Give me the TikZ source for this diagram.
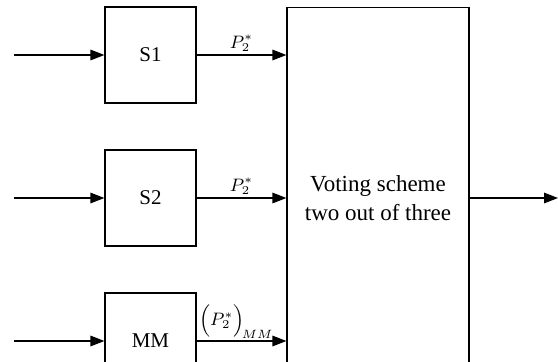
\documentclass[tikz,border=0pt]{standalone}
\usepackage{amsmath}
\usepackage{fontspec}
\setmainfont{Liberation Serif}
\usetikzlibrary{arrows.meta,positioning}

\begin{document}
\begin{tikzpicture}[x=0.5pt,y=-0.5pt,
	sig/.style={-{Triangle[length=7pt,width=5.3pt]},line width=0.6pt},
	blk/.style={draw,line width=0.6pt,minimum width=45.5pt,minimum height=48pt,inner sep=0pt,font=\fontsize{10.5}{12}\selectfont},
	lbl/.style={above,inner sep=1.5pt,font=\fontsize{9}{10}\selectfont}]

	\useasboundingbox (0,0) rectangle (558,361);
	\clip (0,0) rectangle (558,361);

	% sensors and model
	\node[blk] (s1) at (150.5,55) {S1};
	\node[blk] (s2) at (150.5,198) {S2};
	\node[blk] (mm) at (150.5,341) {MM};

	% voter
	\node[draw,line width=0.6pt,minimum width=91pt,minimum height=190.5pt,inner sep=0pt,
		align=center,font=\fontsize{11.5}{14.2}\selectfont] (vote) at (378,198)
		{Voting scheme\\two out of three};

	\coordinate (in1) at (14,55);
	\coordinate (in2) at (14,198);
	\coordinate (in3) at (14,341);
	\coordinate (out) at (558,198);

	\draw[sig] (in1) -- (s1.west);
	\draw[sig] (in2) -- (s2.west);
	\draw[sig] (in3) -- (mm.west);

	\draw[sig] (s1.east) -- node[lbl] {$P_2^*$} (vote.west |- s1.east);
	\draw[sig] (s2.east) -- node[lbl] {$P_2^*$} (vote.west |- s2.east);
	\draw[sig] (mm.east) -- node[lbl,pos=0,anchor=south west,inner sep=1pt] {$\Bigl(P_2^*\Bigr)_{\!MM}$} (vote.west |- mm.east);

	\draw[sig] (vote.east) -- (out);

\end{tikzpicture}
\end{document}
